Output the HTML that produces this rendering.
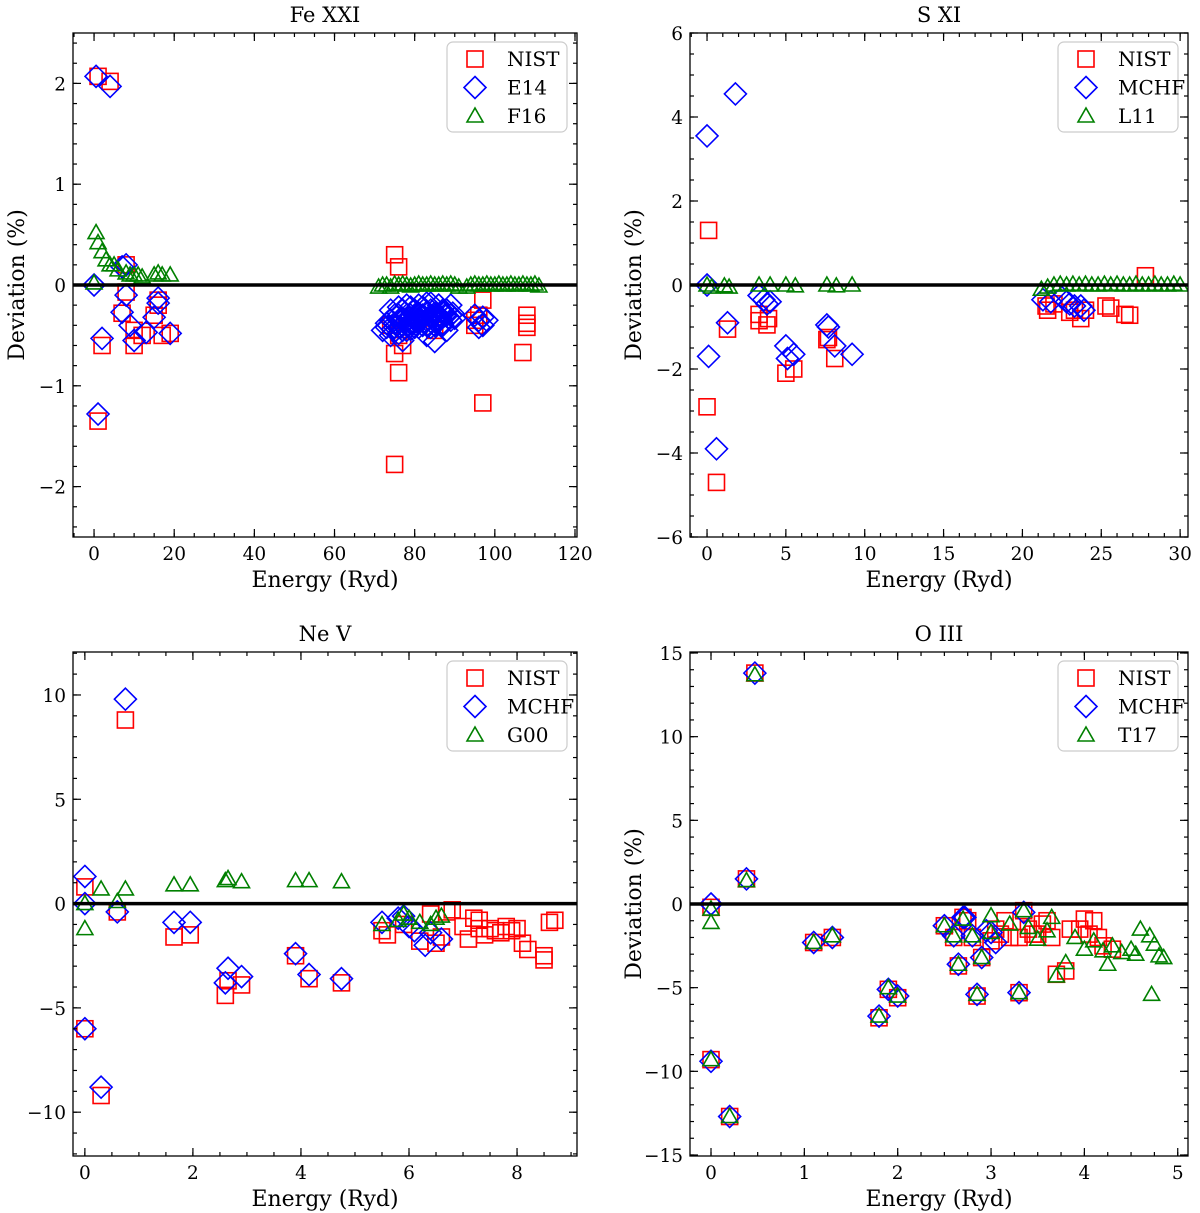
<!DOCTYPE html>
<html><head><meta charset="utf-8"><style>
html,body{margin:0;padding:0;background:#fff;}
svg{display:block;font-family:"DejaVu Serif","Liberation Serif",serif;}
</style></head><body>
<svg id="fig" width="1200" height="1213" viewBox="0 0 1200 1213" xmlns="http://www.w3.org/2000/svg"></svg>
<script>
// ---------- Data ----------
const feNistX=[1,4,1,2,7,8,8,10,10,12,15,16,16,17,19,75,76,75,76,75,77,97,97,107,108,108,108,95,95,74,85,76,96];
const feNistY=[2.07,2.02,-1.35,-0.6,-0.28,0.2,-0.07,-0.45,-0.6,-0.5,-0.3,-0.15,-0.2,-0.5,-0.48,0.3,0.18,-0.68,-0.87,-1.78,-0.6,-1.17,-0.15,-0.67,-0.3,-0.38,-0.42,-0.35,-0.4,-0.4,-0.45,-0.5,-0.3];
const feE14X=[0.5,4,1,0,2,7,7,8,8,9,10,13,15,16,16,19,72,73,74,75,75,76,76,77,77,78,78,79,79,80,80,81,81,82,82,83,83,84,84,85,85,86,86,87,87,88,88,89,74,76,78,80,82,84,86,88,77,83,95,96,96,97,97,98,73,74,75,76,77,78,79,80,81,82,83,84,85,86,87,88,89,90,73.5,74.5,75.5,76.5,77.5,78.5,79.5,80.5,81.5,82.5,83.5,84.5,85.5,86.5,87.5,88.5,89.5,75,77,79,81,83,85,87,89];
const feE14Y=[2.07,1.97,-1.28,0,-0.53,-0.27,0.18,0.2,-0.1,-0.4,-0.55,-0.47,-0.32,-0.18,-0.13,-0.48,-0.45,-0.38,-0.5,-0.3,-0.42,-0.35,-0.48,-0.25,-0.4,-0.3,-0.45,-0.22,-0.38,-0.3,-0.42,-0.2,-0.35,-0.3,-0.4,-0.18,-0.35,-0.25,-0.42,-0.3,-0.56,-0.2,-0.35,-0.25,-0.4,-0.3,-0.45,-0.2,-0.25,-0.22,-0.2,-0.25,-0.22,-0.18,-0.2,-0.25,-0.55,-0.5,-0.3,-0.35,-0.42,-0.32,-0.4,-0.35,-0.42,-0.35,-0.38,-0.3,-0.33,-0.35,-0.3,-0.32,-0.28,-0.3,-0.27,-0.3,-0.28,-0.3,-0.27,-0.25,-0.3,-0.33,-0.4,-0.44,-0.4,-0.42,-0.38,-0.4,-0.38,-0.36,-0.35,-0.36,-0.34,-0.32,-0.35,-0.33,-0.3,-0.32,-0.28,-0.46,-0.45,-0.44,-0.42,-0.4,-0.4,-0.38,-0.35];
const feF16X=[0.5,1,2,3,4,5,6,8,9,10,11,12,15,16,17,19,0,71,72,73,74,75,76,77,78,79,80,81,82,83,84,85,86,87,88,89,90,91,93,94,95,96,97,98,99,100,101,102,103,104,105,106,107,108,109,110,111];
const feF16Y=[0.52,0.42,0.33,0.25,0.2,0.2,0.15,0.12,0.1,0.1,0.1,0.08,0.1,0.12,0.1,0.1,0.02,-0.02,0,0,-0.02,0.01,0,0.01,0,-0.01,0,0.01,0,0,0.01,0,0,0.01,0,0.01,0,-0.02,-0.02,0,0.01,0,0,0.01,0,0,0.01,0,0,0.01,0,0,0.01,0,0,0.01,-0.01];

const sNistX=[0.1,0,0.6,1.3,3.3,3.3,3.8,3.9,5,5.5,7.6,7.7,8.1,21.5,21.6,23,23.3,23.7,25.3,25.6,26.5,26.8,27.8,22,24];
const sNistY=[1.3,-2.9,-4.7,-1.05,-0.7,-0.85,-0.95,-0.8,-2.1,-2.0,-1.3,-1.25,-1.75,-0.5,-0.6,-0.65,-0.6,-0.8,-0.5,-0.55,-0.7,-0.72,0.22,-0.45,-0.6];
const sMchfX=[0,1.8,0,0.1,0.6,1.3,3.3,3.6,3.8,4,5,5.1,5.5,7.6,7.7,8.1,9.2,21.3,21.8,22.5,23,23.3,23.7,23.9,22.8];
const sMchfY=[3.55,4.55,0,-1.7,-3.9,-0.9,-0.25,-0.35,-0.45,-0.4,-1.45,-1.75,-1.65,-0.95,-1.0,-1.45,-1.65,-0.35,-0.4,-0.3,-0.45,-0.5,-0.5,-0.6,-0.4];
const sL11X=[0,0.3,1.1,1.4,3.3,4.0,5,5.6,7.6,8.2,9.2,21.2,21.6,22,22.4,22.8,23.2,23.6,24,24.4,24.8,25.2,25.6,26,26.4,26.8,27.2,27.6,28,28.4,28.8,29.2,29.6,30];
const sL11Y=[0,-0.05,-0.02,-0.05,0,0,0,-0.02,0,-0.02,0,-0.1,-0.05,0,0.02,0,0.02,0,0.02,0,0,0.02,0,0.02,0,0,0.02,0,0,0.02,0,0,0.02,0];

const neNistX=[0,0,0.3,0.6,0.75,1.65,1.95,2.6,2.65,2.9,3.9,4.15,4.75,5.5,5.6,5.9,6.2,6.4,6.5,6.6,6.7,6.8,7.0,7.1,7.2,7.3,7.3,7.4,7.5,7.6,7.7,7.8,7.9,8.0,8.1,8.2,8.5,8.5,8.6,8.7];
const neNistY=[0.8,-6,-9.2,-0.4,8.8,-1.6,-1.5,-4.4,-3.7,-3.9,-2.5,-3.6,-3.8,-1.3,-1.5,-1.0,-1.8,-0.5,-1.9,-1.6,-0.4,-0.3,-1.1,-1.7,-0.7,-1.2,-0.8,-1.5,-1.2,-1.3,-1.4,-1.1,-1.3,-1.2,-1.9,-2.2,-2.7,-2.5,-0.9,-0.8];
const neMchfX=[0,0,0,0.3,0.6,0.75,1.65,1.95,2.6,2.65,2.9,3.9,4.15,4.75,5.5,5.8,5.9,6.0,6.3,6.4,6.6,6.1];
const neMchfY=[1.3,0,-6,-8.8,-0.4,9.8,-0.9,-0.9,-3.8,-3.1,-3.5,-2.4,-3.4,-3.6,-0.9,-0.7,-0.6,-1.1,-2.0,-1.4,-1.7,-1.3];
const neG00X=[0,0,0.3,0.6,0.75,1.65,1.95,2.6,2.65,2.9,3.9,4.15,4.75,5.5,5.8,5.9,6.0,6.2,6.4,6.5,6.6];
const neG00Y=[0,-1.2,0.7,0.1,0.7,0.9,0.9,1.1,1.2,1.05,1.1,1.1,1.05,-1.0,-0.8,-0.5,-0.7,-0.9,-1.0,-0.7,-0.6];

const oNistX=[0,0,0.2,0.38,0.47,1.1,1.3,1.8,1.9,2.0,2.5,2.6,2.65,2.7,2.75,2.8,2.85,2.9,3.0,3.05,3.1,3.15,3.2,3.3,3.35,3.4,3.5,3.55,3.6,3.65,3.7,3.8,3.85,3.95,4.0,4.05,4.1,4.15,4.2,4.3,3.3,3.45];
const oNistY=[-0.2,-9.3,-12.7,1.5,13.8,-2.3,-2.0,-6.8,-5.1,-5.6,-1.3,-2.0,-3.7,-0.8,-1.0,-2.0,-5.5,-3.2,-2.2,-1.5,-1.8,-1.0,-2.0,-5.3,-0.4,-1.5,-1.8,-1.2,-1.0,-2.0,-4.2,-4.0,-1.5,-1.5,-0.9,-1.8,-1.0,-2.0,-2.5,-2.7,-2.0,-1.8];
const oMchfX=[0,0,0.2,0.38,0.47,1.1,1.3,1.8,1.9,2.0,2.5,2.6,2.65,2.7,2.72,2.8,2.85,2.9,2.95,3.0,3.05,3.3,3.35];
const oMchfY=[0,-9.4,-12.7,1.5,13.8,-2.3,-2.0,-6.7,-5.1,-5.5,-1.3,-1.9,-3.6,-0.8,-0.8,-1.9,-5.4,-3.2,-1.6,-1.7,-2.3,-5.3,-0.5];
const oT17X=[0,0,0.2,0.38,0.47,1.1,1.3,1.8,1.9,2.0,2.5,2.6,2.65,2.7,2.8,2.85,2.9,3.0,3.3,3.35,0,3.7,3.8,4.1,4.25,4.3,4.4,4.5,4.55,4.6,4.7,4.72,4.75,4.8,4.85,3.0,3.2,3.5,3.6,3.9,4.0,4.2,3.4,3.65];
const oT17Y=[-0.3,-9.3,-12.7,1.4,13.7,-2.3,-1.9,-6.7,-5.0,-5.5,-1.3,-1.9,-3.6,-0.9,-1.9,-5.4,-3.2,-1.7,-5.3,-0.4,-1.1,-4.3,-3.5,-2.2,-3.6,-2.5,-2.9,-2.7,-3.0,-1.5,-1.9,-5.4,-2.4,-3.1,-3.2,-0.7,-1.2,-2.1,-1.6,-2.0,-2.7,-2.8,-1.4,-0.8];

const panels=[
 {name:'fe',title:'Fe XXI',L:73,R:577,T:33,B:537,x0:-5.25,x1:120.5,y0:-2.5,y1:2.5,
  xt:[0,20,40,60,80,100,120],yt:[-2,-1,0,1,2],yl:['\u22122','\u22121','0','1','2'],xm:5,ym:0.2,ylabel:true,
  leg:['NIST','E14','F16'],s:[[feNistX,feNistY],[feE14X,feE14Y],[feF16X,feF16Y]]},
 {name:'s',title:'S XI',L:690,R:1188,T:33,B:537,x0:-1.08,x1:30.5,y0:-6,y1:6,
  xt:[0,5,10,15,20,25,30],yt:[-6,-4,-2,0,2,4,6],yl:['\u22126','\u22124','\u22122','0','2','4','6'],xm:1,ym:0.5,ylabel:true,
  leg:['NIST','MCHF','L11'],s:[[sNistX,sNistY],[sMchfX,sMchfY],[sL11X,sL11Y]]},
 {name:'ne',title:'Ne V',L:73,R:577,T:652,B:1156,x0:-0.22,x1:9.11,y0:-12.1,y1:12.06,
  xt:[0,2,4,6,8],yt:[-10,-5,0,5,10],yl:['\u221210','\u22125','0','5','10'],xm:0.5,ym:1,ylabel:false,
  leg:['NIST','MCHF','G00'],s:[[neNistX,neNistY],[neMchfX,neMchfY],[neG00X,neG00Y]]},
 {name:'o',title:'O III',L:690,R:1188,T:652,B:1156,x0:-0.225,x1:5.11,y0:-15.06,y1:15.06,
  xt:[0,1,2,3,4,5],yt:[-15,-10,-5,0,5,10,15],yl:['\u221215','\u221210','\u22125','0','5','10','15'],xm:0.25,ym:1,ylabel:true,
  leg:['NIST','MCHF','T17'],s:[[oNistX,oNistY],[oMchfX,oMchfY],[oT17X,oT17Y]]}
];
const NS='http://www.w3.org/2000/svg';
const svg=document.getElementById('fig');
function mk(tag,attrs,parent){const e=document.createElementNS(NS,tag);for(const k in attrs)e.setAttribute(k,attrs[k]);(parent||svg).appendChild(e);return e;}
function marker(g,kind,cx,cy){
 let e;
 if(kind===0){e=mk('rect',{x:cx-8,y:cy-8,width:16,height:16,fill:'none',stroke:'#ff0000','stroke-width':1.6},g);}
 else if(kind===1){e=mk('polygon',{points:`${cx},${cy-11} ${cx+11},${cy} ${cx},${cy+11} ${cx-11},${cy}`,fill:'none',stroke:'#0000ff','stroke-width':1.6},g);}
 else {e=mk('polygon',{points:`${cx},${cy-8} ${cx+8},${cy+6} ${cx-8},${cy+6}`,fill:'none',stroke:'#008000','stroke-width':1.6},g);}
 return e;
}
const snames=['nist','second','third'];
panels.forEach(p=>{
 const g=mk('g',{});
 
 
 const X=v=>p.L+(v-p.x0)/(p.x1-p.x0)*(p.R-p.L);
 const Y=v=>p.B-(v-p.y0)/(p.y1-p.y0)*(p.B-p.T);
 const clip='clip-'+p.name;
 const cp=mk('clipPath',{id:clip},g);mk('rect',{x:p.L,y:p.T,width:p.R-p.L,height:p.B-p.T},cp);
 const dg=mk('g',{'clip-path':`url(#${clip})`},g);
 p.s.forEach((ser,k)=>{
  const sg=mk('g',{},dg);
  
  
  ser[0].forEach((xv,i)=>{const m=marker(sg,k,X(xv),Y(ser[1][i]));
   
   });
 });
 const zl=mk('line',{x1:p.L,x2:p.R,y1:Y(0),y2:Y(0),stroke:'#000','stroke-width':3.5},g);
 
 
 const tg=mk('g',{stroke:'#000','stroke-width':1.2},g);
 for(let v=Math.ceil(p.x0/p.xm)*p.xm;v<=p.x1+1e-9;v+=p.xm){const x=X(v);
  mk('line',{x1:x,x2:x,y1:p.B,y2:p.B-4},tg);mk('line',{x1:x,x2:x,y1:p.T,y2:p.T+4},tg);}
 for(let v=Math.ceil(p.y0/p.ym)*p.ym;v<=p.y1+1e-9;v+=p.ym){const y=Y(v);
  mk('line',{x1:p.L,x2:p.L+4,y1:y,y2:y},tg);mk('line',{x1:p.R,x2:p.R-4,y1:y,y2:y},tg);}
 p.xt.forEach(v=>{const x=X(v);
  mk('line',{x1:x,x2:x,y1:p.B,y2:p.B-8},tg);mk('line',{x1:x,x2:x,y1:p.T,y2:p.T+8},tg);
  const t=mk('text',{x:x,y:p.B+23,'text-anchor':'middle','font-size':18.5,fill:'#000'},g);t.textContent=String(v);
  
  });
 p.yt.forEach((v,i)=>{const y=Y(v);
  mk('line',{x1:p.L,x2:p.L+8,y1:y,y2:y},tg);mk('line',{x1:p.R,x2:p.R-8,y1:y,y2:y},tg);
  const t=mk('text',{x:p.L-7,y:y+7,'text-anchor':'end','font-size':18.5,fill:'#000'},g);t.textContent=p.yl[i];
  
  });
 const fr=mk('rect',{x:p.L,y:p.T,width:p.R-p.L,height:p.B-p.T,fill:'none',stroke:'#000','stroke-width':1.3},g);
 
 
 const cx=(p.L+p.R)/2;
 const ti=mk('text',{x:cx,y:p.T-11,'text-anchor':'middle','font-size':21,fill:'#000'},g);ti.textContent=p.title;
 
 
 const xl=mk('text',{x:cx,y:p.B+50,'text-anchor':'middle','font-size':22,fill:'#000'},g);xl.textContent='Energy (Ryd)';
 
 
 if(p.ylabel){const yx=p.L-49,yy=(p.T+p.B)/2;
  const yl=mk('text',{x:yx,y:yy,'text-anchor':'middle','font-size':22,fill:'#000',transform:`rotate(-90 ${yx} ${yy})`},g);yl.textContent='Deviation (%)';
  
  }
 const lg=mk('g',{},g);
 
 
 mk('rect',{x:p.R-130,y:p.T+9,width:120,height:90,rx:6,fill:'#fff',stroke:'#ccc','stroke-width':1.2},lg);
 p.leg.forEach((lab,k)=>{const ly=p.T+26+k*28.5;
  marker(lg,k,p.R-102,ly);
  const t=mk('text',{x:p.R-70,y:ly+7,'font-size':20,fill:'#000'},lg);t.textContent=lab;
  
  });
});
</script>
</body></html>
